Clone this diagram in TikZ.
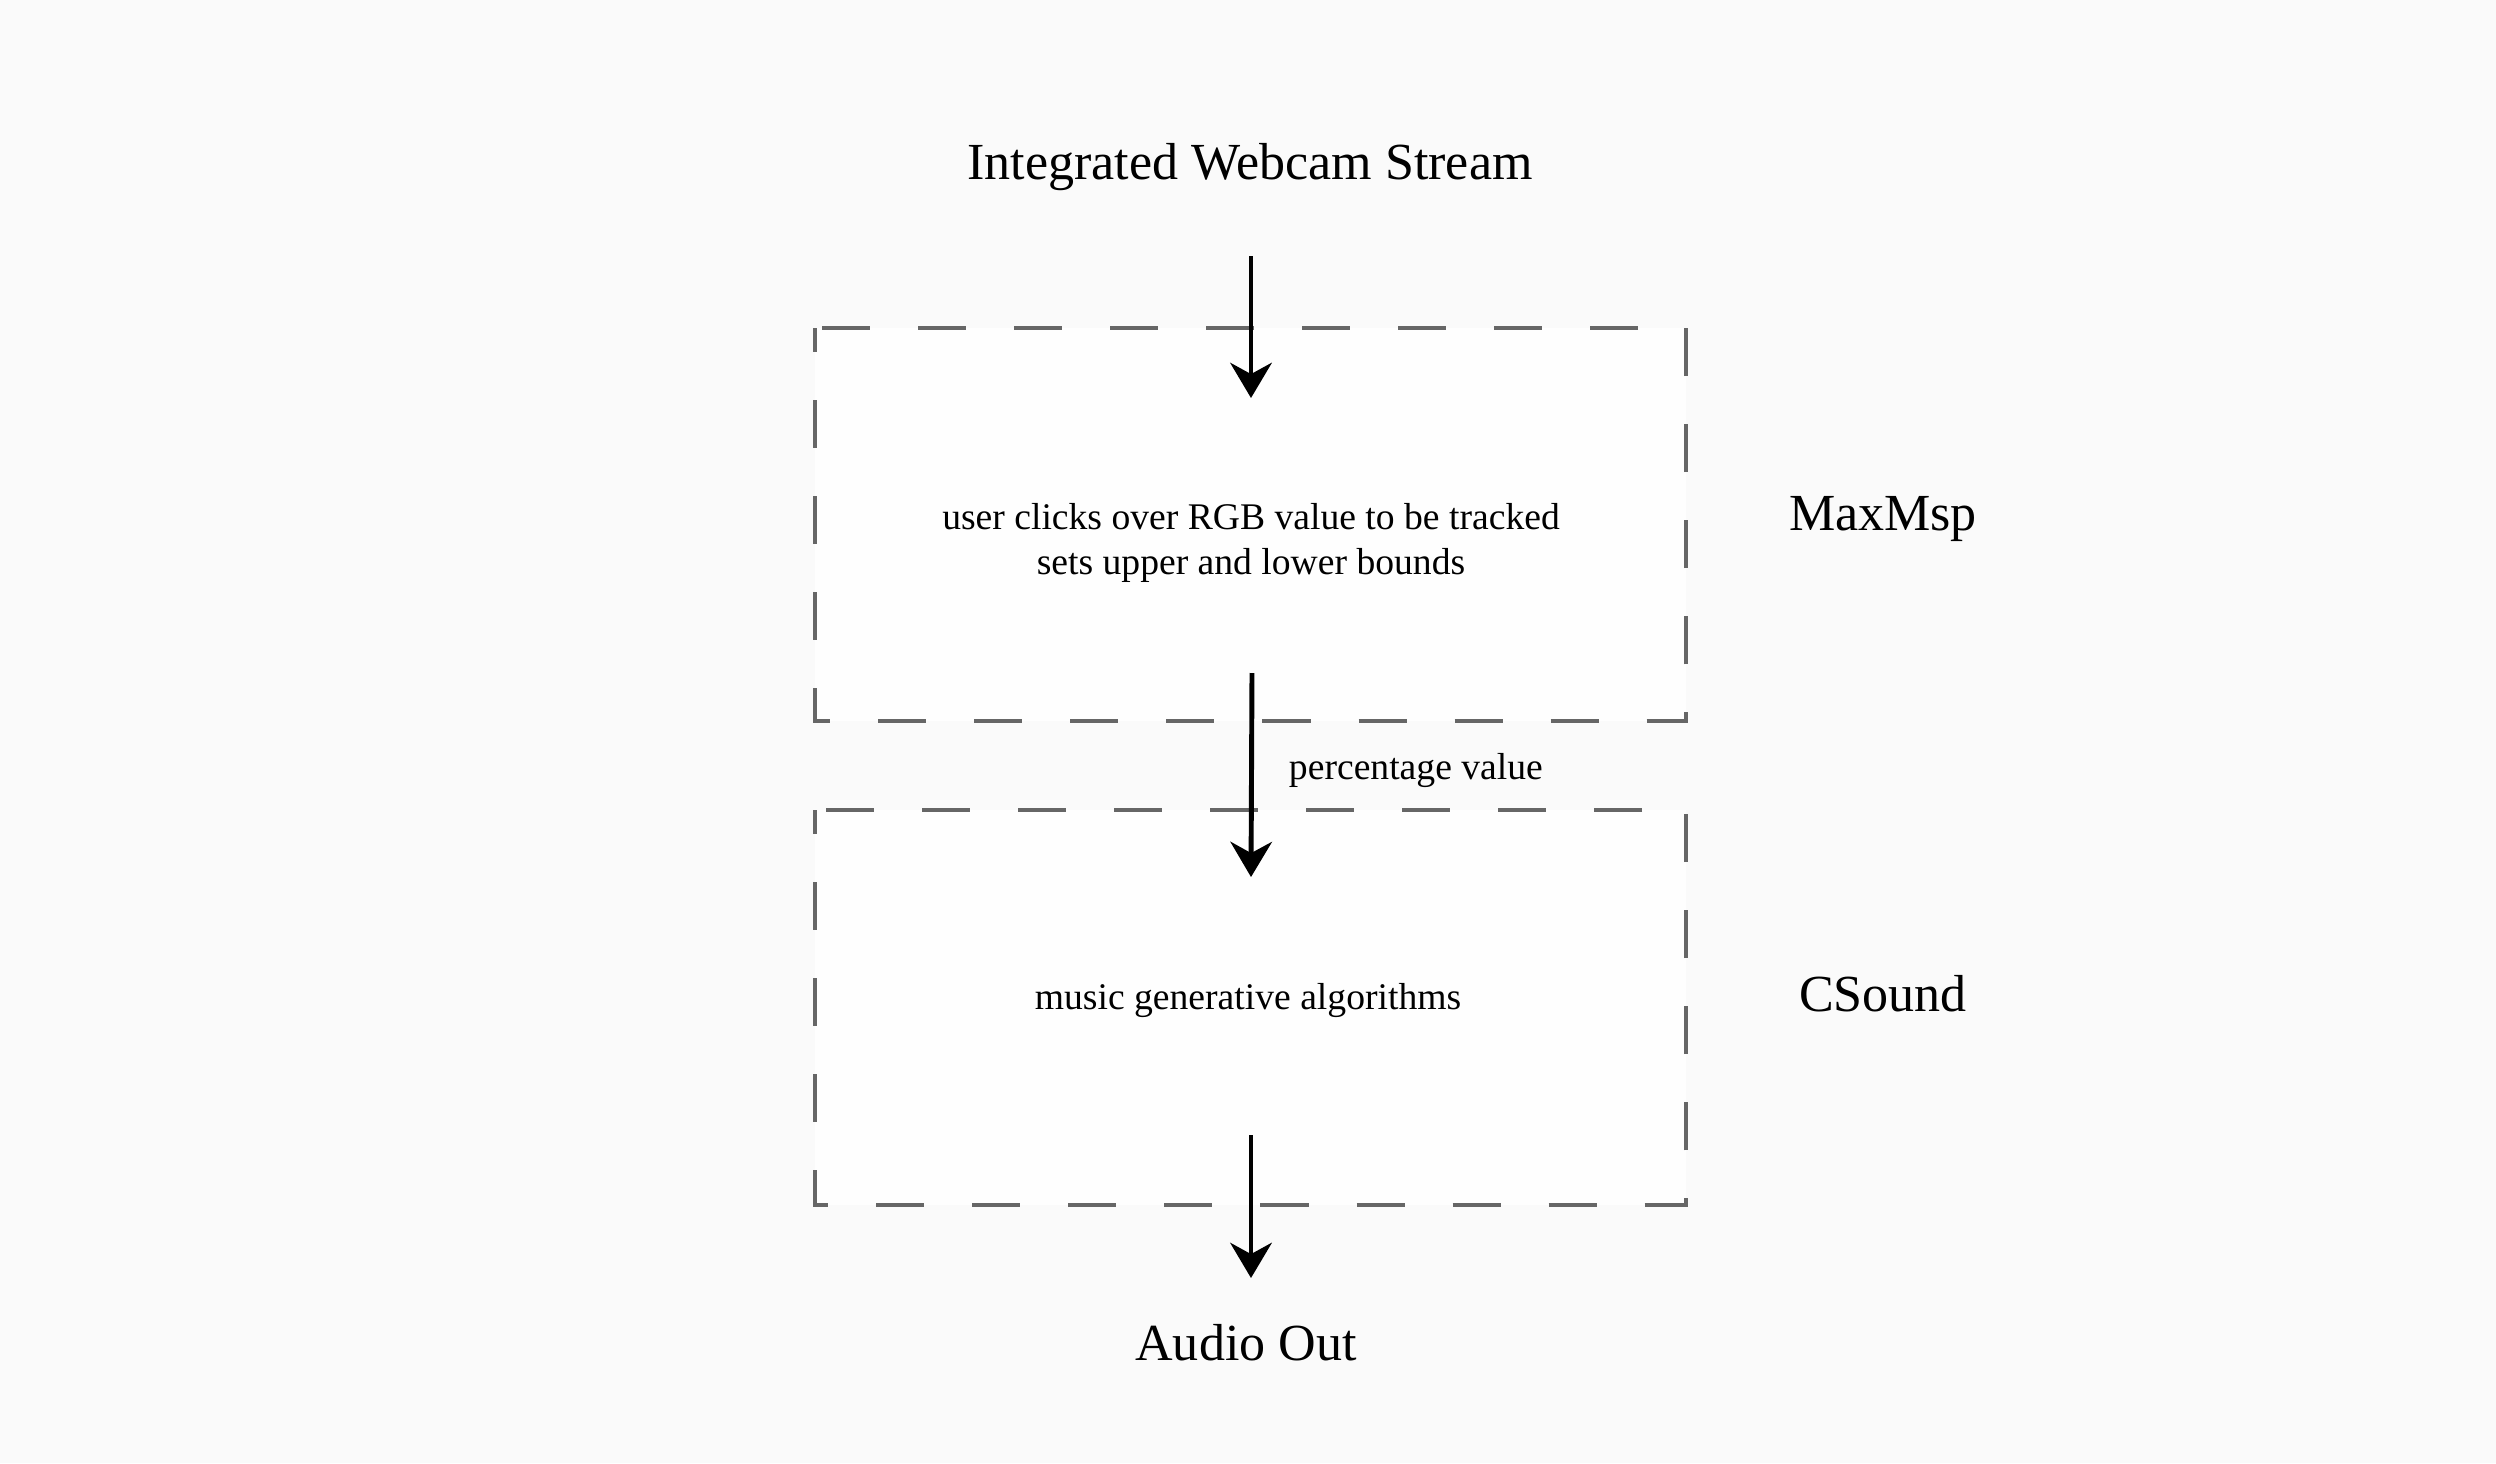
\documentclass[tikz,border=0pt]{standalone}
\usepackage{fontspec}
\setmainfont{Liberation Serif}
\usetikzlibrary{arrows.meta}
\definecolor{bgcol}{HTML}{FAFAFA}
\definecolor{boxfill}{HTML}{FEFEFE}
\definecolor{dashcol}{HTML}{666666}
\tikzset{
  bigtext/.style={inner sep=0pt, font=\fontsize{14.8}{17}\selectfont},
  smalltext/.style={inner sep=0pt, align=center, font=\fontsize{10.7}{12.8}\selectfont},
  groupbox/.style={draw=dashcol, fill=boxfill, line width=1.14pt,
    dash pattern=on 0.48cm off 0.48cm, dash phase=0.24cm},
  flow/.style={line width=1.4pt, -{Stealth[length=10pt, width=11.8pt, inset=3.2pt]}}
}
\begin{document}
\begin{tikzpicture}[x=0.01cm, y=-0.01cm]
\fill[bgcol] (0,0) rectangle (2496,1463);
\useasboundingbox (0,0) rectangle (2496,1463);
\draw[groupbox] (815,328) rectangle (1686,721);
\draw[groupbox] (815,810) rectangle (1686,1205);
\node[bigtext] (cam) at (1250,167) {Integrated Webcam Stream};
\node[bigtext] (max) at (1883,519) {MaxMsp};
\node[bigtext] (cs) at (1883,994) {CSound};
\node[bigtext] (out) at (1246,1343) {Audio Out};
\node[smalltext] (track) at (1251,543) {user clicks over RGB value to be tracked\\sets upper and lower bounds};
\node[smalltext] (music) at (1248,1000) {music generative algorithms};
\coordinate (a1s) at (1251,256);
\coordinate (a1e) at (1251,398);
\coordinate (a2s) at (1252,673);
\coordinate (a2e) at (1251,877);
\coordinate (a3s) at (1251,1135);
\coordinate (a3e) at (1251,1278);
\draw[flow] (a1s) -- (a1e);
\draw[flow] (a2s) -- node[smalltext, anchor=west, xshift=0.35cm, yshift=0.05cm] (pct) {percentage value} (a2e);
\draw[flow] (a3s) -- (a3e);
\end{tikzpicture}
\end{document}
